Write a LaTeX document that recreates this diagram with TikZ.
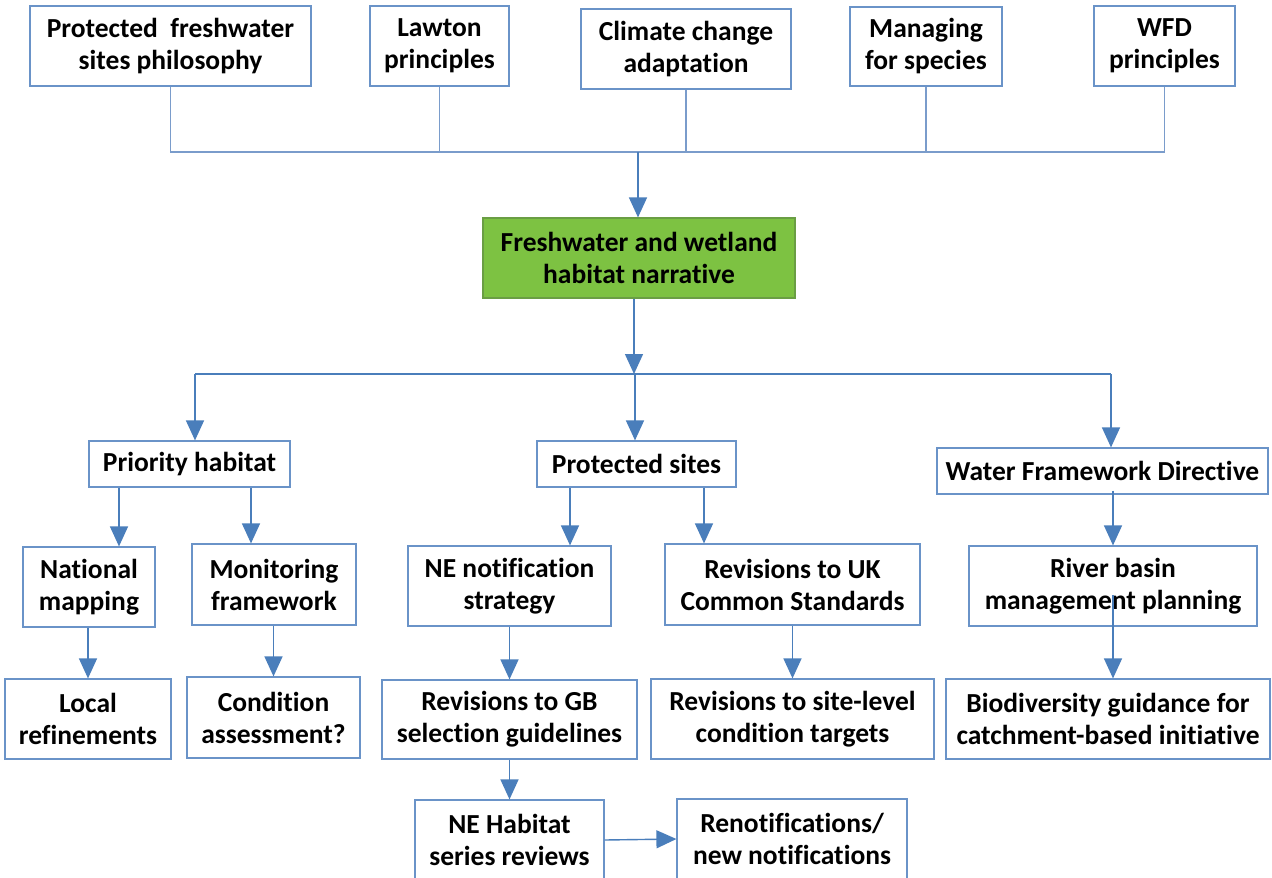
\documentclass[tikz,border=0pt]{standalone}
\usepackage{fontspec}
\setmainfont[Ligatures=NoCommon]{Carlito}
\usetikzlibrary{arrows.meta}
\definecolor{boxblue}{HTML}{6A93C8}
\definecolor{arrblue}{HTML}{4A7EBB}
\definecolor{connblue}{HTML}{7A9CCB}
\definecolor{leafgreen}{HTML}{7DC242}
\definecolor{greenedge}{HTML}{6A9E44}
\tikzset{
  box/.style={draw=boxblue, line width=1.2pt, fill=white, align=center, inner sep=0pt,
    font=\fontsize{27.5}{32}\selectfont\bfseries},
  conn/.style={draw=connblue, line width=1.1pt},
  arr/.style={draw=arrblue, line width=1.4pt, -{Triangle[length=20pt,width=18pt]}},
  busline/.style={draw=arrblue, line width=1.4pt},
}
\begin{document}
\begin{tikzpicture}[x=1pt,y=-1pt]
\useasboundingbox (0,0) rectangle (1272,878);
\clip (0,0) rectangle (1272,878);
\fill[white] (0,0) rectangle (1272,878);
% top row
\node[box, minimum width=281pt, minimum height=80pt] (p1) at (170.5,46) {Protected\ \ freshwater\\sites philosophy};
\node[box, minimum width=139pt, minimum height=80pt] (p2) at (439.5,46) {Lawton\\principles};
\node[box, minimum width=210pt, minimum height=80pt] (p3) at (686,49) {Climate change\\adaptation};
\node[box, minimum width=152pt, minimum height=79pt] (p4) at (926,46.5) {Managing\\for species};
\node[box, minimum width=141pt, minimum height=80pt] (p5) at (1164.5,46) {WFD\\principles};
% green
\node[box, fill=leafgreen, draw=greenedge, minimum width=312pt, minimum height=80pt] (green) at (639,258) {Freshwater and wetland\\habitat narrative};
% level 2
\node[box, minimum width=201pt, minimum height=46pt] (ph) at (189.5,464) {Priority habitat};
\node[box, minimum width=199pt, minimum height=46pt] (ps) at (636.5,464) {Protected sites};
\node[box, minimum width=331pt, minimum height=46pt] (wd) at (1102.5,471) {Water Framework Directive};
% level 3
\node[box, minimum width=132pt, minimum height=80pt] (nm) at (89,587) {National\\mapping};
\node[box, minimum width=164pt, minimum height=81pt] (mf) at (274,584.5) {Monitoring\\framework};
\node[box, minimum width=203pt, minimum height=80pt] (nn) at (509.5,586) {NE notification\\strategy};
\node[box, minimum width=255pt, minimum height=81pt] (ru) at (792.5,584.5) {Revisions to UK\\Common Standards};
\node[box, minimum width=288pt, minimum height=80pt] (rb) at (1113,586) {River basin\\management planning};
% level 4
\node[box, minimum width=166pt, minimum height=80pt] (lr) at (88,719) {Local\\refinements};
\node[box, minimum width=173pt, minimum height=81pt] (ca) at (273.5,717.5) {Condition\\assessment?};
\node[box, minimum width=255pt, minimum height=79pt] (gb) at (509.5,719.5) {Revisions to GB\\selection guidelines};
\node[box, minimum width=283pt, minimum height=80pt] (sl) at (792.5,719) {Revisions to site-level\\condition targets};
\node[box, minimum width=324pt, minimum height=80pt] (bg) at (1108,719) {Biodiversity guidance for\\catchment-based initiative};
% level 5
\node[box, minimum width=189pt, minimum height=80pt] (nh) at (509.5,840) {NE Habitat\\series reviews};
\node[box, minimum width=230pt, minimum height=80pt] (rn) at (792,839) {Renotifications/\\new notifications};
% top connectors
\coordinate (bus1) at (0,152);
\draw[conn] (p1.south) -- (p1.south |- bus1) -- (p5.south |- bus1) -- (p5.south);
\draw[conn] (p2.south) -- (p2.south |- bus1);
\draw[conn] (p3.south) -- (p3.south |- bus1);
\draw[conn] (p4.south) -- (p4.south |- bus1);
\draw[arr] ([xshift=-1pt]green.north |- bus1) -- ([xshift=-1pt]green.north);
% second bus
\coordinate (bus2) at (0,374);
\coordinate (b2l) at (195,374);
\coordinate (b2r) at (1111,374);
\draw[arr] ([xshift=-5pt]green.south) -- ([xshift=-5pt]green.south |- bus2);
\draw[busline] (b2l) -- (b2r);
\draw[arr] (b2l) -- (b2l |- ph.north);
\draw[arr] ([xshift=-1.5pt]ps.north |- bus2) -- ([xshift=-1.5pt]ps.north);
\draw[arr] (b2r) -- (b2r |- wd.north);
% level 2 -> 3
\draw[arr] ([xshift=30pt]nm.north |- ph.south) -- ([xshift=30pt]nm.north);
\draw[arr] ([xshift=-23pt]mf.north |- ph.south) -- ([xshift=-23pt]mf.north);
\draw[arr] ([xshift=60.5pt]nn.north |- ps.south) -- ([xshift=60.5pt]nn.north);
\draw[arr] ([xshift=-88.5pt]ru.north |- ps.south) -- ([xshift=-88.5pt]ru.north);
\draw[arr] ([yshift=4pt]rb.north |- wd.south) -- (rb.north);
% level 3 -> 4
\draw[arr] (lr.north |- nm.south) -- (lr.north);
\draw[arr] (ca.north |- mf.south) -- (ca.north);
\draw[arr] (gb.north |- nn.south) -- (gb.north);
\draw[arr] (sl.north |- ru.south) -- (sl.north);
\draw[arr] ([yshift=-9pt]rb.center) -- (rb.center |- bg.north);
% level 4 -> 5
\draw[arr] (nh.north |- gb.south) -- (nh.north);
\draw[arr] (nh.east) -- (rn.west);
\end{tikzpicture}
\end{document}
